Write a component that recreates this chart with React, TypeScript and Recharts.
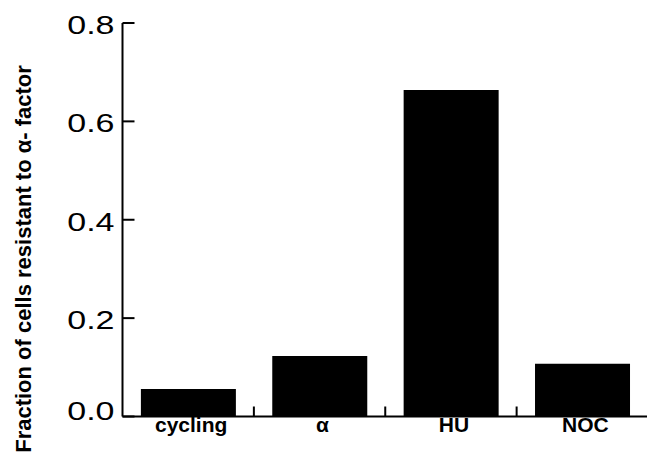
import React from 'react';
import { BarChart, Bar, XAxis, YAxis } from 'recharts';

const categories = ['cycling', 'α', 'HU', 'NOC'];
const fractions = [0.056, 0.123, 0.664, 0.107];
const yTicks = [0, 0.2, 0.4, 0.6, 0.8];
const yTitle = 'Fraction of cells resistant to α- factor';

const data = categories.map((name, i) => ({ name, value: fractions[i] }));

const FONT = '"Liberation Sans", Arial, Helvetica, sans-serif';
const Y_TICK_MARGIN = 8;

const YTick = (props: any) => {
  const { x, y, payload } = props;
  const isZero = payload.value === 0;
  const axisX = x + Y_TICK_MARGIN;
  return (
    <g>
      <line x1={axisX} y1={y} x2={axisX + 12} y2={y} stroke="#000" strokeWidth={2} />
      <g transform={`translate(${x},${y})`}>
        <text
          transform="scale(1.36,1)"
          textAnchor="end"
          dy={isZero ? 3 : 11}
          fontSize={25}
          fontFamily={FONT}
          fill="#000"
        >
          {Number(payload.value).toFixed(1)}
        </text>
      </g>
    </g>
  );
};

const XTick = (props: any) => {
  const { x, y, payload, index, visibleTicksCount } = props;
  const half = payload && payload.offset ? payload.offset : 0;
  const isLast = index === (visibleTicksCount ?? categories.length) - 1;
  return (
    <g>
      {!isLast && (
        <line x1={x + half} y1={y} x2={x + half} y2={y - 10} stroke="#000" strokeWidth={2} />
      )}
      <text
        x={x + 3}
        y={y}
        dy={15}
        textAnchor="middle"
        fontSize={21}
        fontWeight="bold"
        fontFamily={FONT}
        fill="#000"
      >
        {payload.value}
      </text>
    </g>
  );
};

const YTitle = () => (
  <text
    x={31}
    y={259}
    transform="rotate(-90, 31, 259)"
    textAnchor="middle"
    fontSize={22}
    fontWeight="bold"
    fontFamily={FONT}
    fill="#000"
  >
    {yTitle}
  </text>
);

export default function App() {
  return (
    <div style={{ position: 'absolute', left: 0, top: 0, width: 647, height: 455, overflow: 'hidden', background: '#fff' }}>
      <BarChart
        width={647}
        height={455}
        data={data}
        margin={{ top: 23, right: -1, bottom: 0, left: 0 }}
        barCategoryGap="14%"
      >
        <XAxis
          dataKey="name"
          type="category"
          height={38.5}
          axisLine={{ stroke: '#000', strokeWidth: 2 }}
          tickLine={false}
          tickSize={0}
          tickMargin={0}
          tick={<XTick />}
          interval={0}
        />
        <YAxis
          type="number"
          domain={[0, 0.8]}
          ticks={yTicks}
          width={122.5}
          axisLine={{ stroke: '#000', strokeWidth: 2 }}
          tickLine={false}
          tickSize={0}
          tickMargin={Y_TICK_MARGIN}
          tick={<YTick />}
          interval={0}
          label={<YTitle />}
        />
        <Bar dataKey="value" fill="#000" isAnimationActive={false} />
      </BarChart>
    </div>
  );
}
